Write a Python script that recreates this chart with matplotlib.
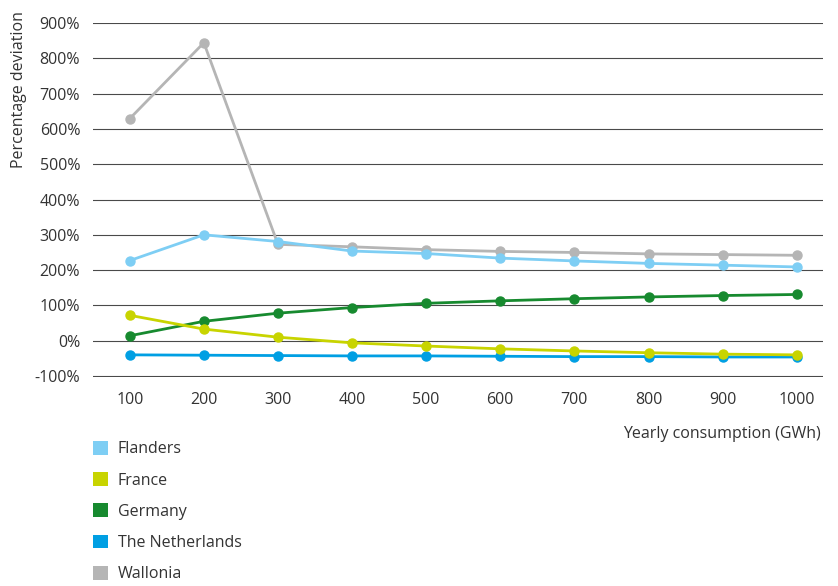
import matplotlib
matplotlib.use('Agg')
import matplotlib.pyplot as plt
from matplotlib.patches import Patch
from matplotlib.ticker import FuncFormatter

plt.rcParams['font.family'] = ['Open Sans', 'DejaVu Sans']

# Jaarverbruik (GWh) en procentuele afwijking
consumption = [100, 200, 300, 400, 500, 600, 700, 800, 900, 1000]
flanders = [227, 300, 281, 254, 247, 234, 226, 219, 214, 209]
france = [72, 33, 10, -6, -15, -23, -29, -34, -38, -40]
germany = [14, 55, 78, 94, 106, 113, 119, 124, 128, 131]
netherlands = [-40, -41, -42, -43, -43, -44, -45, -45, -46, -46]
wallonia = [629, 844, 273, 266, 258, 253, 250, 246, 244, 242]

names = ['Flanders', 'France', 'Germany', 'The Netherlands', 'Wallonia']
colors = ['#7ecef4', '#c8d400', '#178a2f', '#009fe3', '#b5b5b5']
series = [flanders, france, germany, netherlands, wallonia]

txt = '#333333'

fig = plt.figure(figsize=(8.38, 5.86), dpi=100)
ax = fig.add_axes([0.1106, 0.3574, 0.8711, 0.6034])

# tekenen in omgekeerde volgorde zodat Flanders bovenaan ligt
for i in range(len(series) - 1, -1, -1):
    ax.plot(consumption, series[i], color=colors[i], lw=2.0, marker='o',
            ms=6.5, zorder=3 + (len(series) - i))

ax.set_xlim(50, 1035)
ax.set_ylim(-101.5, 900)
ax.set_xticks(consumption)
ax.set_yticks(range(-100, 1000, 100))
ax.yaxis.set_major_formatter(FuncFormatter(lambda v, p: '%d%%' % v))
ax.grid(axis='y', color='#4a4a4a', lw=0.8, zorder=1)
ax.tick_params(length=0, labelsize=11.5, labelcolor=txt)
ax.tick_params(axis='y', pad=9)
ax.tick_params(axis='x', pad=11)
for s in ax.spines.values():
    s.set_visible(False)

fig.text(0.023, 0.848, 'Percentage deviation', rotation=90, va='center',
         ha='center', fontsize=11.5, color=txt)
fig.text(0.979, 0.2594, 'Yearly consumption (GWh)', ha='right', va='center',
         fontsize=11.5, color=txt)

handles = [Patch(facecolor=c, edgecolor='none', label=n) for n, c in zip(names, colors)]
fig.legend(handles=handles, loc='upper left', bbox_to_anchor=(93 / 838, 1 - 441 / 586),
           frameon=False, borderpad=0, borderaxespad=0, fontsize=11.5,
           handlelength=0.95, handleheight=0.95, handletextpad=0.6,
           labelspacing=0.93, labelcolor=txt)

fig.savefig('out.png', dpi=100)
